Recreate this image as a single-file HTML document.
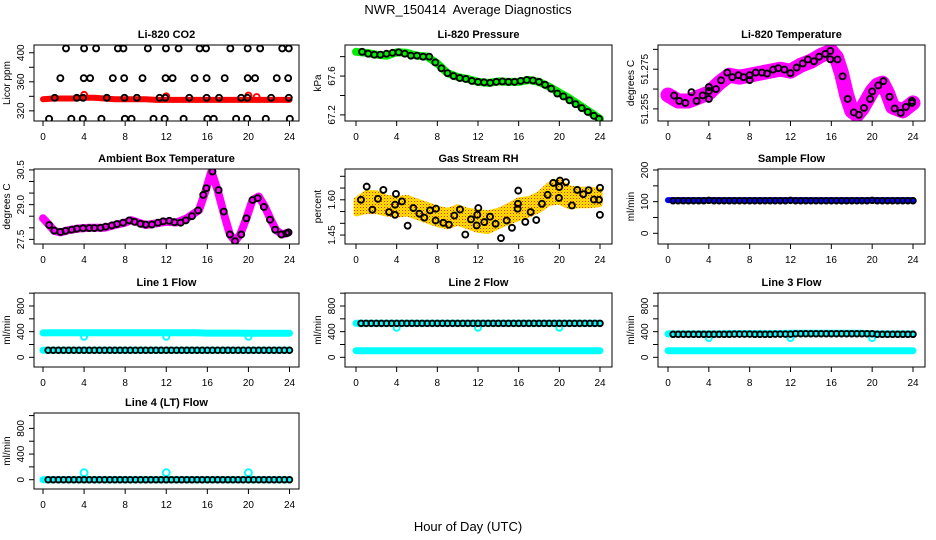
<!DOCTYPE html>
<html><head><meta charset="utf-8"><style>
html,body{margin:0;padding:0;background:#fff;}
svg{display:block;font-family:"Liberation Sans",Arial,sans-serif;}
</style></head><body>
<svg id="chart" width="936" height="540" viewBox="0 0 936 540" xmlns="http://www.w3.org/2000/svg">
<text x="468" y="14" text-anchor="middle" font-size="13" xml:space="preserve">NWR_150414  Average Diagnostics</text>
<text x="468" y="531" text-anchor="middle" font-size="13">Hour of Day (UTC)</text>
</svg>
<script>
const xTicks=[0,4,8,12,16,20,24];
// CO2
const co2RedH=[0,1,2,3,4,5,6,7,8,9,10,11,12,13,14,15,16,17,18,19,20,21,22,23,24];
const co2RedV=[336,337,337,337,338,338,337,336,336,336,336,335,335,335,335,335,335,335,335,335,335,335,335,335,335];
const co2OutH=[4,12,20,20.8];
const co2OutV=[342,340,341,339];
const co2BlkH=[2.24,4.0,5.17,7.29,7.83,10.21,11.97,13.2,15.25,15.87,18.24,19.93,21.14,23.29,23.93,
1.69,3.97,4.59,6.8,7.9,9.69,11.93,12.62,14.76,15.93,17.69,19.93,20.65,22.76,23.87,
1.14,3.29,3.9,6.21,7.93,9.14,11.35,11.9,14.24,15.93,17.14,19.29,19.9,22.21,23.93,
0.59,2.76,3.87,5.69,7.97,8.62,10.76,11.84,13.69,16.0,16.62,18.8,19.87,21.69,24.03];
const co2BlkV=[406,406,406,406,406,406,406,406,406,406,406,406,406,406,406,
365,365,365,365,365,365,365,365,365,365,365,365,365,365,365,
338,338,338,338,338,338,338,338,338,338,338,338,338,338,338,
309,309,309,309,309,309,309,309,309,309,309,309,309,309,309];
// Pressure
const presH=[0,1,2,3,4,5,6,7,8,9,10,11,12,13,14,15,16,17,18,19,20,21,22,23,24];
const presV=[67.85,67.84,67.82,67.81,67.845,67.84,67.81,67.80,67.73,67.63,67.59,67.57,67.54,67.53,67.545,67.54,67.54,67.56,67.54,67.49,67.43,67.37,67.30,67.23,67.16];
const presBlkH=[0.6,1.2,1.8,2.4,3.0,3.6,4.2,4.8,5.4,6.0,6.6,7.2,7.8,8.4,9.0,9.6,10.2,10.8,11.4,12.0,12.6,13.2,13.8,14.4,15.0,15.6,16.2,16.8,17.4,18.0,18.6,19.2,19.8,20.4,21.0,21.6,22.2,22.8,23.4,23.9];
const presBlkV=[67.85,67.83,67.82,67.82,67.83,67.84,67.845,67.83,67.81,67.81,67.80,67.80,67.74,67.68,67.63,67.60,67.58,67.57,67.55,67.54,67.535,67.53,67.54,67.545,67.54,67.54,67.55,67.56,67.555,67.54,67.51,67.47,67.42,67.39,67.35,67.31,67.27,67.23,67.19,67.16];
// Li-820 temperature
const tmpH=[0,1,2,3,4,5,6,7,8,9,10,11,12,13,14,15,16,16.5,17,17.5,18,18.5,19,20,20.5,21,21.5,22,23,24];
const tmpV=[51.262,51.259,51.259,51.261,51.263,51.268,51.272,51.271,51.272,51.273,51.274,51.275,51.274,51.277,51.279,51.282,51.284,51.281,51.273,51.262,51.254,51.252,51.255,51.264,51.267,51.268,51.263,51.256,51.254,51.258];
const tmpBlkH=[0.6,1.1,1.7,2.3,2.8,3.4,4,4,4,4.7,5.2,5.8,6.3,6.9,7.4,8,8,8.6,9.2,9.7,10.3,10.8,11.4,12,12.6,13.2,13.7,14.3,14.8,15.4,15.9,15.9,16.6,17.1,17.6,18.2,18.7,19.2,19.8,20,20.6,21.1,21.7,22.2,22.8,23.3,23.9,23.9];
const tmpBlkV=[51.2617,51.259,51.258,51.2634,51.259,51.2618,51.264,51.266,51.260,51.265,51.2694,51.2733,51.271,51.272,51.271,51.272,51.2695,51.2733,51.2733,51.2728,51.2748,51.2755,51.2748,51.273,51.2758,51.2779,51.2799,51.279,51.2813,51.2827,51.2842,51.2800,51.2799,51.2714,51.260,51.2532,51.252,51.2555,51.260,51.2638,51.2668,51.269,51.2611,51.2552,51.253,51.256,51.258,51.259];
// Ambient box temperature
const ambH=[0,0.6,1.1,1.7,2.5,3.5,4.5,6,7,8,8.6,10,12,13,14,15.2,15.8,16.4,17,17.6,18.2,18.7,19.2,19.8,20.4,21,21.6,22.2,22.7,23.3,23.9];
const ambV=[28.41,28.12,27.86,27.80,27.90,27.97,28.0,28.0,28.12,28.22,28.33,28.12,28.26,28.23,28.41,28.77,29.56,30.43,29.63,28.62,27.71,27.42,27.71,28.41,29.20,29.35,28.91,28.33,27.90,27.71,27.80];
const ambBlkH=[0.6,1.1,1.7,2.2,2.8,3.3,3.9,4.5,5.0,5.6,6.1,6.7,7.2,7.8,8.4,8.9,9.5,10.0,10.6,11.2,11.7,12.3,12.8,13.4,13.9,14.5,15.1,15.6,15.9,16.5,17.1,17.6,18.2,18.7,19.3,19.8,20.4,20.9,21.5,22.1,22.6,23.2,23.7,23.9];
const ambBlkV=[28.12,27.88,27.82,27.87,27.92,27.96,27.98,27.99,27.99,28.0,28.05,28.1,28.16,28.22,28.32,28.26,28.17,28.14,28.14,28.22,28.28,28.3,28.24,28.22,28.32,28.5,28.75,29.42,29.71,30.43,29.63,28.7,27.71,27.42,27.71,28.41,29.2,29.28,28.9,28.35,27.92,27.71,27.76,27.8];
// Gas stream RH
const rhH=[0,1,2,3,4,5,6,7,8,9,10,11,12,13,14,15,16,17,18,19,20,21,22,23,24];
const rhCenter=[1.57,1.59,1.59,1.575,1.57,1.575,1.56,1.545,1.53,1.52,1.535,1.52,1.51,1.505,1.52,1.54,1.56,1.57,1.59,1.625,1.635,1.61,1.61,1.61,1.61];
const rhSpread=[0.03,0.04,0.04,0.035,0.035,0.035,0.035,0.035,0.035,0.035,0.035,0.035,0.04,0.04,0.035,0.035,0.04,0.035,0.035,0.04,0.045,0.04,0.035,0.035,0.03];
const rhBlkH=[0.49,1.05,1.61,2.16,2.69,3.25,3.84,3.93,3.84,4.52,5.08,5.64,6.23,6.72,7.28,7.87,7.83,8.59,9.14,9.67,10.23,10.75,11.31,11.87,11.93,12.03,12.62,13.18,13.73,14.26,14.82,15.34,15.9,15.93,15.96,16.65,17.18,17.73,18.29,18.85,19.4,19.96,19.99,20.06,20.65,21.24,21.76,22.35,22.88,23.4,23.99,24.0,23.9];
const rhBlkV=[1.600,1.656,1.558,1.604,1.642,1.548,1.579,1.625,1.536,1.593,1.490,1.565,1.541,1.524,1.555,1.562,1.512,1.502,1.494,1.533,1.559,1.452,1.517,1.491,1.536,1.565,1.505,1.528,1.498,1.437,1.512,1.481,1.562,1.583,1.639,1.506,1.548,1.514,1.583,1.621,1.672,1.608,1.654,1.682,1.675,1.576,1.642,1.624,1.641,1.601,1.536,1.651,1.600];
// Flows
const flowH=[0.5,1,1.5,2,2.5,3,3.5,4,4.5,5,5.5,6,6.5,7,7.5,8,8.5,9,9.5,10,10.5,11,11.5,12,12.5,13,13.5,14,14.5,15,15.5,16,16.5,17,17.5,18,18.5,19,19.5,20,20.5,21,21.5,22,22.5,23,23.5,24];
const hourH=[0,1,2,3,4,5,6,7,8,9,10,11,12,13,14,15,16,17,18,19,20,21,22,23,24];
const sampleBlue=[105,105,105,105,105,105,105,105,105,105,105,105,105,105,105,105,105,105,105,105,105,105,105,105,105];
const sampleBlk=[103,103,103,103,103,103,103,104,103,103,103,103,103,103,103,103,103,103,103,103,103,103,103,104,103,103,103,103,103,103,103,103,103,103,103,103,103,103,103,104,103,103,103,103,103,103,103,103];
const line1CyanHi=[380,382,382,382,384,384,384,384,384,384,384,384,384,384,384,384,378,378,378,378,376,376,376,376,376];
const line1CyanLo=[110,110,110,110,110,110,110,110,110,110,110,110,110,110,110,110,110,110,110,110,110,110,110,110,110];
const line1Blk=[110,110,110,110,110,110,110,110,110,110,110,110,110,110,110,110,110,110,110,110,110,110,110,110,110,110,110,110,110,110,110,110,110,110,110,110,110,110,110,110,110,110,110,110,110,110,110,110];
const dipH=[4,12,20];
const line1Dip=[320,320,320];
const line2CyanHi=[530,530,530,530,530,530,530,530,530,530,530,530,530,530,530,530,530,530,530,530,530,530,530,530,530];
const line2CyanLo=[103,103,103,103,103,103,103,103,103,103,103,103,103,103,103,103,103,103,103,103,103,103,103,103,103];
const line2Blk=[530,530,530,530,530,530,530,530,530,530,530,530,530,530,530,530,530,530,530,530,530,530,530,530,530,530,530,530,530,530,530,530,530,530,530,530,530,530,530,530,530,530,530,530,530,530,530,530];
const line2Dip=[460,460,460];
const line3CyanHi=[365,365,365,365,365,365,370,370,370,370,370,370,375,375,375,375,375,375,375,375,365,365,365,365,365];
const line3CyanLo=[103,103,103,103,103,103,103,103,103,103,103,103,103,103,103,103,103,103,103,103,103,103,103,103,103];
const line3Blk=[359,359,359,359,359,359,359,359,359,359,359,359,362,362,362,362,359,359,359,359,362,362,362,362,368,368,368,368,368,368,368,368,368,368,368,368,368,368,368,368,359,359,359,359,359,359,359,359];
const line3Dip=[300,300,300];
const line4Cyan=[0,0,0,0,0,0,0,0,0,0,0,0,0,0,0,0,0,0,0,0,0,0,0,0,0];
const line4Blk=[0,0,0,0,0,0,0,0,0,0,0,0,0,0,0,0,0,0,0,0,0,0,0,0,0,0,0,0,0,0,0,0,0,0,0,0,0,0,0,0,0,0,0,0,0,0,0,0];
const line4Out=[109,109,109];

const NS='http://www.w3.org/2000/svg';
const svg=document.getElementById('chart');
function mk(tag,attrs,parent){const e=document.createElementNS(NS,tag);for(const k in attrs)e.setAttribute(k,attrs[k]);(parent||svg).appendChild(e);return e;}

const defs=mk('defs',{});
const pat=mk('pattern',{id:'rhpat',width:'3',height:'3',patternUnits:'userSpaceOnUse'},defs);
mk('rect',{x:0,y:0,width:3,height:3,fill:'#ffe600'},pat);
mk('rect',{x:0,y:0,width:1,height:1,fill:'#ff2000'},pat);
mk('rect',{x:1.5,y:1.5,width:1,height:1,fill:'#ff8000'},pat);

function panel(cfg){
  const g=mk('g',{});
  
  
  const sx=h=>cfg.x0+(h/24)*(cfg.x24-cfg.x0);
  const sy=v=>cfg.top+(cfg.vmax-v)/(cfg.vmax-cfg.vmin)*(cfg.bot-cfg.top);
  const cp='clip-'+cfg.name;
  const clip=mk('clipPath',{id:cp},defs);
  mk('rect',{x:cfg.left,y:cfg.top,width:cfg.right-cfg.left,height:cfg.bot-cfg.top},clip);
  const plot=mk('g',{'clip-path':'url(#'+cp+')'},g);
  
  
  cfg.draw(plot,sx,sy);
  const box=mk('rect',{x:cfg.left,y:cfg.top,width:cfg.right-cfg.left,height:cfg.bot-cfg.top,fill:'none',stroke:'#000','stroke-width':1},g);
  
  
  const t=mk('text',{x:(cfg.left+cfg.right)/2,y:cfg.top-7,'text-anchor':'middle','font-size':11,'font-weight':'bold'},g);
  t.textContent=cfg.title;
  
  
  const xa=mk('g',{},g);
  
  
  mk('line',{x1:sx(0),x2:sx(24),y1:cfg.bot,y2:cfg.bot,stroke:'#000'},xa);
  xTicks.forEach(v=>{
    mk('line',{x1:sx(v),x2:sx(v),y1:cfg.bot,y2:cfg.bot+5,stroke:'#000'},xa);
    const tl=mk('text',{x:sx(v),y:cfg.bot+19,'text-anchor':'middle','font-size':10},xa);
    tl.textContent=v;
    
    
  });
  const ya=mk('g',{},g);
  
  
  const tk=cfg.yTicks;
  mk('line',{x1:cfg.left,x2:cfg.left,y1:sy(tk[0]),y2:sy(tk[tk.length-1]),stroke:'#000'},ya);
  tk.forEach(v=>{mk('line',{x1:cfg.left-5,x2:cfg.left,y1:sy(v),y2:sy(v),stroke:'#000'},ya);});
  cfg.yLabels.forEach(v=>{
    const yy=sy(v), xx=cfg.left-10;
    const tl=mk('text',{x:xx,y:yy,'text-anchor':'middle','font-size':10,transform:'rotate(-90 '+xx+' '+yy+')'},ya);
    tl.textContent=cfg.fmt?cfg.fmt(v):v;
    
    
  });
  const yl=mk('text',{x:cfg.left-24,y:(cfg.top+cfg.bot)/2,'text-anchor':'middle','font-size':10,transform:'rotate(-90 '+(cfg.left-24)+' '+((cfg.top+cfg.bot)/2)+')'},g);
  yl.textContent=cfg.ylab;
  
  
}
function band(p,sx,sy,H,V,color,w,name){
  const d=H.map((h,i)=>(i?'L':'M')+sx(h).toFixed(1)+' '+sy(V[i]).toFixed(1)).join(' ');
  const e=mk('path',{d:d,fill:'none',stroke:color,'stroke-width':w,'stroke-linecap':'round','stroke-linejoin':'round'},p);
  
  
}
function circles(p,sx,sy,H,V,color,r,name){
  const g=mk('g',{},p);
  
  
  H.forEach((h,i)=>{mk('circle',{cx:sx(h),cy:sy(V[i]),r:r,fill:'none',stroke:color,'stroke-width':1.9},g);});
}
const C1={left:34,right:299,x0:43,x24:289.5};
const C2={left:345,right:612,x0:356,x24:600};
const C3={left:658,right:925,x0:668,x24:913};
const R1={top:45,bot:121}, R2={top:169,bot:244}, R3={top:293,bot:367}, R4={top:413,bot:489};
function P(c,r,o){return Object.assign({},c,r,o);}

panel(P(C1,R1,{name:'co2-panel',title:'Li-820 CO2',ylab:'Licor ppm',vmax:410.7,vmin:306,yTicks:[320,340,360,380,400],yLabels:[320,360,400],
 draw:(p,sx,sy)=>{band(p,sx,sy,co2RedH,co2RedV,'#ff0000',6,'co2-red-series');circles(p,sx,sy,co2OutH,co2OutV,'#ff0000',3,'co2-red-outliers');circles(p,sx,sy,co2BlkH,co2BlkV,'#000',3,'co2-black-points');}}));
panel(P(C2,R1,{name:'pressure-panel',title:'Li-820 Pressure',ylab:'kPa',vmax:67.92,vmin:67.137,yTicks:[67.2,67.4,67.6,67.8],yLabels:[67.2,67.6],fmt:v=>v.toFixed(1),
 draw:(p,sx,sy)=>{band(p,sx,sy,presH,presV,'#00ee00',8,'pressure-green-series');circles(p,sx,sy,presBlkH,presBlkV,'#000',3,'pressure-black-points');}}));
panel(P(C3,R1,{name:'li820-temperature-panel',title:'Li-820 Temperature',ylab:'degrees C',vmax:51.2872,vmin:51.2489,yTicks:[51.255,51.265,51.275,51.285],yLabels:[51.255,51.275],fmt:v=>v.toFixed(3),
 draw:(p,sx,sy)=>{band(p,sx,sy,tmpH,tmpV,'#ff00ff',15,'temperature-magenta-series');circles(p,sx,sy,tmpBlkH,tmpBlkV,'#000',3,'temperature-black-points');}}));
panel(P(C1,R2,{name:'ambient-temperature-panel',title:'Ambient Box Temperature',ylab:'degrees C',vmax:30.54,vmin:27.3,yTicks:[27.5,28,28.5,29,29.5,30,30.5],yLabels:[27.5,29.0,30.5],fmt:v=>v.toFixed(1),
 draw:(p,sx,sy)=>{band(p,sx,sy,ambH,ambV,'#ff00ff',8,'ambient-magenta-series');circles(p,sx,sy,ambBlkH,ambBlkV,'#000',3,'ambient-black-points');}}));
panel(P(C2,R2,{name:'rh-panel',title:'Gas Stream RH',ylab:'percent',vmax:1.731,vmin:1.412,yTicks:[1.45,1.5,1.55,1.6,1.65,1.7],yLabels:[1.45,1.60],fmt:v=>v.toFixed(2),
 draw:(p,sx,sy)=>{
   const up=rhH.map((h,i)=>sx(h).toFixed(1)+','+sy(rhCenter[i]+rhSpread[i]).toFixed(1));
   const lo=rhH.map((h,i)=>sx(h).toFixed(1)+','+sy(rhCenter[i]-rhSpread[i]).toFixed(1)).reverse();
   const e=mk('polygon',{points:up.concat(lo).join(' '),fill:'url(#rhpat)',stroke:'url(#rhpat)','stroke-width':5,'stroke-linejoin':'round'},p);
   
   
   circles(p,sx,sy,rhBlkH,rhBlkV,'#000',3,'rh-black-points');}}));
panel(P(C3,R2,{name:'sample-flow-panel',title:'Sample Flow',ylab:'ml/min',vmax:203.2,vmin:-33.8,yTicks:[0,50,100,150,200],yLabels:[0,100,200],
 draw:(p,sx,sy)=>{band(p,sx,sy,hourH,sampleBlue,'#0000ff',6,'sample-blue-series');circles(p,sx,sy,flowH,sampleBlk,'#000',2.8,'sample-black-points');}}));
const fT=[0,200,400,600,800,1000], fL=[0,400,800];
panel(P(C1,R3,{name:'line1-flow-panel',title:'Line 1 Flow',ylab:'ml/min',vmax:1002.7,vmin:-151,yTicks:fT,yLabels:fL,
 draw:(p,sx,sy)=>{band(p,sx,sy,hourH,line1CyanHi,'#00ffff',7,'line1-cyan-upper');band(p,sx,sy,hourH,line1CyanLo,'#00ffff',7,'line1-cyan-lower');circles(p,sx,sy,dipH,line1Dip,'#00ffff',3,'line1-cyan-dips');circles(p,sx,sy,flowH,line1Blk,'#000',2.8,'line1-black-points');}}));
panel(P(C2,R3,{name:'line2-flow-panel',title:'Line 2 Flow',ylab:'ml/min',vmax:1002.7,vmin:-151,yTicks:fT,yLabels:fL,
 draw:(p,sx,sy)=>{band(p,sx,sy,hourH,line2CyanHi,'#00ffff',7,'line2-cyan-upper');band(p,sx,sy,hourH,line2CyanLo,'#00ffff',7,'line2-cyan-lower');circles(p,sx,sy,dipH,line2Dip,'#00ffff',3,'line2-cyan-dips');circles(p,sx,sy,flowH,line2Blk,'#000',2.8,'line2-black-points');}}));
panel(P(C3,R3,{name:'line3-flow-panel',title:'Line 3 Flow',ylab:'ml/min',vmax:1002.7,vmin:-151,yTicks:fT,yLabels:fL,
 draw:(p,sx,sy)=>{band(p,sx,sy,hourH,line3CyanHi,'#00ffff',7,'line3-cyan-upper');band(p,sx,sy,hourH,line3CyanLo,'#00ffff',7,'line3-cyan-lower');circles(p,sx,sy,dipH,line3Dip,'#00ffff',3,'line3-cyan-dips');circles(p,sx,sy,flowH,line3Blk,'#000',2.8,'line3-black-points');}}));
panel(P(C1,R4,{name:'line4-flow-panel',title:'Line 4 (LT) Flow',ylab:'ml/min',vmax:1040,vmin:-145,yTicks:fT,yLabels:fL,
 draw:(p,sx,sy)=>{band(p,sx,sy,hourH,line4Cyan,'#00ffff',7,'line4-cyan-series');circles(p,sx,sy,dipH,line4Out,'#00ffff',3.5,'line4-cyan-outliers');circles(p,sx,sy,flowH,line4Blk,'#000',2.8,'line4-black-points');}}));
</script>
</body></html>
